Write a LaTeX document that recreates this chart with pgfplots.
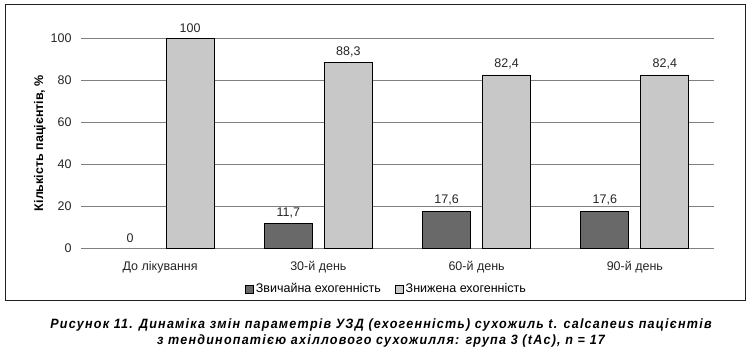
\documentclass[border=0pt]{standalone}
\usepackage{pgfplots}
\pgfplotsset{compat=1.18}
\usepackage{fontspec}
\setmainfont{Liberation Sans}
\newfontfamily\capfont[FakeStretch=0.93,LetterSpace=9]{Liberation Sans}
\definecolor{darkbar}{HTML}{696969}
\definecolor{lightbar}{HTML}{C8C8C8}
\definecolor{gridgray}{HTML}{808080}
\begin{document}
\begin{tikzpicture}[x=1pt,y=1pt]
\useasboundingbox (0,0) rectangle (751,-351);
\fill[white] (0,0) rectangle (751,-351);
\draw[line width=1pt, black!88] (5,-4) rectangle (745,-300);
\begin{axis}[
  at={(81pt,-248pt)}, anchor=south west,
  scale only axis, width=633pt, height=210pt,
  xmin=-0.5, xmax=3.5, ymin=0, ymax=100,
  ybar, bar width=48pt,
  axis line style={draw=none},
  xtick={0,1,2,3},
  xticklabels={До лікування,30-й день,60-й день,90-й день},
  ytick={0,20,40,60,80,100},
  major tick length=0pt,
  ymajorgrids, grid style={gridgray, line width=0.8pt},
  tick label style={font=\fontsize{12.5}{14}\selectfont, black!85},
  xticklabel style={yshift=-10pt},
  yticklabel style={xshift=-6pt},
  /pgf/number format/assume math mode=true,
  ylabel={\textbf{Кількість пацієнтів, \%}},
  ylabel style={font=\fontsize{12.5}{14}\selectfont, at={(axis description cs:-0.065,0.5)}, anchor=center},
  nodes near coords,
  nodes near coords style={font=\fontsize{12.5}{14}\selectfont, black!85, yshift=2pt},
  point meta=explicit symbolic,
  clip=false,
  legend columns=2,
  legend style={draw=none, fill=none, at={(0.4826,-0.195)}, anchor=center, font=\fontsize{12.5}{14}\selectfont, /tikz/every even column/.append style={column sep=12pt}},
  legend image code/.code={\draw[#1, line width=0.8pt] (0pt,-4pt) rectangle (8pt,4pt);},
]
\addplot[fill=darkbar, draw=black, line width=0.8pt, bar shift=-30pt] coordinates {(1,11.7)[11,7] (2,17.6)[17,6] (3,17.6)[17,6]};
\addplot[fill=lightbar, draw=black, line width=0.8pt, bar shift=30pt] coordinates {(0,100)[100] (1,88.3)[88,3] (2,82.4)[82,4] (3,82.4)[82,4]};
\addplot[draw=none, fill=none, bar shift=-30pt, forget plot] coordinates {(0,0)[0]};
\legend{Звичайна ехогенність, Знижена ехогенність}
\end{axis}
\node[font=\capfont\bfseries\itshape\fontsize{13.5}{16}\selectfont, align=center, anchor=center] at (381,-333)
{Рисунок 11. Динаміка змін параметрів УЗД (ехогенність) сухожиль t. calcaneus пацієнтів\\з тендинопатією ахіллового сухожилля: група 3 (tAc), n = 17};
\end{tikzpicture}
\end{document}
